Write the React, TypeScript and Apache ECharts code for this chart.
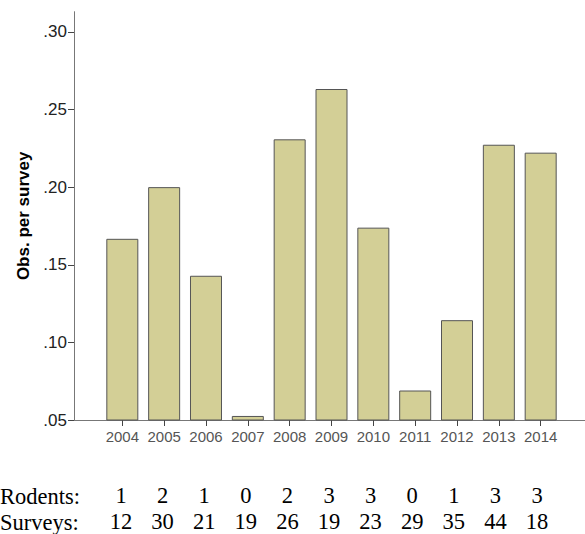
import React, { useEffect, useRef } from "react";
import * as echarts from "echarts";

const years = ["2004", "2005", "2006", "2007", "2008", "2009", "2010", "2011", "2012", "2013", "2014"];
const obsPerSurvey = [0.1667, 0.2, 0.1429, 0.0526, 0.2308, 0.2632, 0.1739, 0.069, 0.1143, 0.2273, 0.2222];
const rodents = [1, 2, 1, 0, 2, 3, 3, 0, 1, 3, 3];
const surveys = [12, 30, 21, 19, 26, 19, 23, 29, 35, 44, 18];
const yTicks = [0.05, 0.1, 0.15, 0.2, 0.25, 0.3];

const SANS = "'Liberation Sans', Arial, sans-serif";
const SERIF = "'Liberation Serif', 'Times New Roman', serif";

export default function App() {
  const ref = useRef<HTMLDivElement>(null);
  useEffect(() => {
    document.body.style.margin = "0";
    const chart = echarts.init(ref.current!, null, { renderer: "svg" });
    const top = 11.7;
    const bottom = 114;
    const yMin = 0.05;
    const yMax = 0.313;
    chart.setOption({
      animation: false,
      backgroundColor: "#ffffff",
      grid: [
        { left: 74, right: 0, top, bottom },
        { left: 101.4, right: 23.4, top, bottom },
        { left: 100.2, right: 27.2, top: 470, height: 1 },
      ],
      xAxis: [
        {
          gridIndex: 0,
          type: "value",
          min: 0,
          max: 1,
          axisLine: { show: true, onZero: false, lineStyle: { color: "#777", width: 1 } },
          axisTick: { show: false },
          axisLabel: { show: false },
          splitLine: { show: false },
        },
        {
          gridIndex: 1,
          type: "category",
          data: years,
          axisLine: { show: true, lineStyle: { color: "#777", width: 1 } },
          axisTick: { show: true, alignWithLabel: true, interval: 0, length: 6, lineStyle: { color: "#444" } },
          axisLabel: { fontSize: 15, color: "#555", fontFamily: SANS, margin: 9, interval: 0 },
        },
        {
          gridIndex: 2,
          type: "category",
          data: years,
          axisLine: { show: false },
          axisTick: { show: false },
          axisLabel: {
            fontSize: 22.5,
            fontFamily: SERIF,
            color: "#000",
            lineHeight: 25.7,
            margin: 12.6,
            interval: 0,
            formatter: (_v: string, i: number) => `${rodents[i]}\n${surveys[i]}`,
          },
        },
      ],
      yAxis: [
        {
          gridIndex: 0,
          type: "value",
          min: yMin,
          max: yMax,
          interval: 0.05,
          name: "Obs. per survey",
          nameLocation: "middle",
          nameRotate: 90,
          nameGap: 38,
          nameTextStyle: { fontSize: 17, fontWeight: "bold", color: "#000", fontFamily: SANS },
          axisLine: { show: true, lineStyle: { color: "#777", width: 1 } },
          axisTick: { show: true, length: 6, customValues: yTicks, lineStyle: { color: "#444" } },
          axisLabel: {
            fontSize: 17,
            color: "#222",
            fontFamily: SANS,
            margin: 7,
            customValues: yTicks,
            formatter: (v: number) => v.toFixed(2).replace(/^0/, ""),
          },
          splitLine: { show: false },
        },
        {
          gridIndex: 1,
          type: "value",
          min: yMin,
          max: yMax,
          show: false,
          splitLine: { show: false },
        },
        {
          gridIndex: 2,
          type: "value",
          show: false,
        },
      ],
      series: [
        {
          type: "bar",
          xAxisIndex: 1,
          yAxisIndex: 1,
          data: obsPerSurvey,
          barWidth: 32,
          itemStyle: { color: "#D3CF96", borderColor: "#555", borderWidth: 1 },
        },
      ],
      graphic: [
        {
          type: "text",
          left: 0,
          top: 483.6,
          style: {
            text: "Rodents:\nSurveys:",
            font: `22.5px ${SERIF}`,
            lineHeight: 25.7,
            fill: "#000",
          },
        },
      ],
    });
    return () => chart.dispose();
  }, []);
  return <div ref={ref} style={{ width: 585, height: 534 }} />;
}
